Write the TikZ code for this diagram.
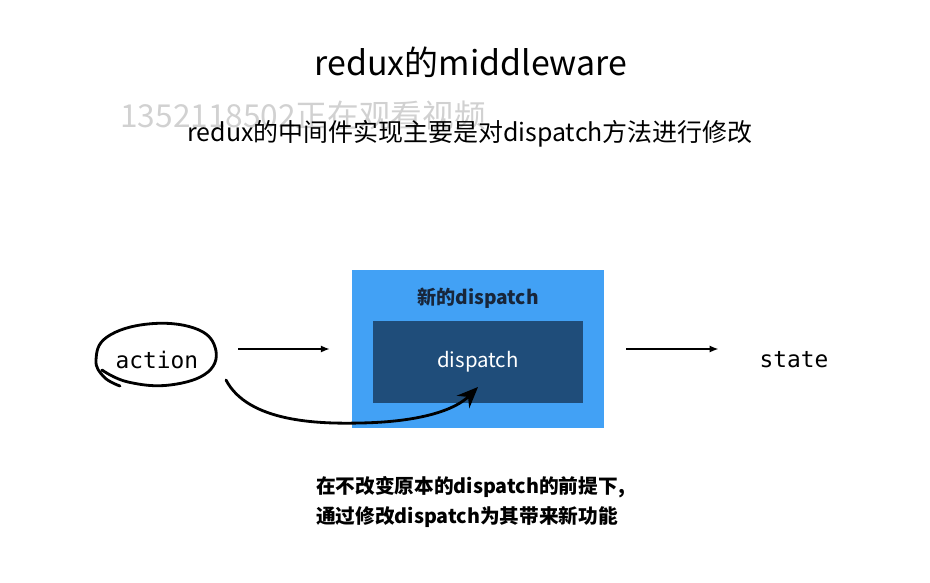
\documentclass[tikz,border=0pt]{standalone}
\usepackage{fontspec}
\setmainfont{Noto Sans CJK SC}
\setmonofont{DejaVu Sans Mono}
\usepackage{xcolor}
\usepackage{tikz}
\usetikzlibrary{calc}
\usetikzlibrary{arrows.meta}
\usetikzlibrary{positioning}
\tikzset{>=latex}
\definecolor{outerblue}{RGB}{66,161,245}
\definecolor{innerblue}{RGB}{31,77,122}
\definecolor{navytext}{RGB}{24,38,58}
\tikzstyle{box} = [rectangle, draw = none, inner sep = 0]
\tikzstyle{hand} = [line width = 1.6pt, line cap = round, line join = round]
\tikzstyle{flow} = [-{Latex[length=5pt, width=4pt]}, line width = 0.8pt]

\begin{document}
\begin{tikzpicture}[x=0.02cm, y=-0.02cm]
\useasboundingbox (0, 0) rectangle (930, 582);
%\node [draw=none, font=\small] at (465, 20) {};
\node [draw = none, font=\fontsize{19.3}{22}\selectfont] (title) at (471, 62) {redux的middleware};
\node [draw = none, font=\fontsize{18}{21}\selectfont, text=black!18] (mark) at (303, 116) {1352118502正在观看视频};
\node [draw = none, font=\fontsize{14.2}{17}\selectfont] (sub) at (470, 134) {redux的中间件实现主要是对dispatch方法进行修改};
\node [box, fill = outerblue, minimum width = 5.04cm, minimum height = 3.16cm] (newdisp) at (478, 349) {};
\node [box, fill = innerblue, minimum width = 4.2cm, minimum height = 1.64cm] (disp) at (478, 362) {};
\node [draw = none, font=\bfseries\fontsize{10.9}{13}\selectfont, text=navytext] (newlbl) at (478, 298) {新的dispatch};
\node [draw = none, font=\fontsize{11.6}{14}\selectfont, text=white] (displbl) at (478, 362) {dispatch};
\node [draw = none, font=\ttfamily\fontsize{13}{16}\selectfont] (action) at (157, 360) {action};
\node [draw = none, font=\ttfamily\fontsize{13}{16}\selectfont] (state) at (794, 360) {state};
\coordinate (tail) at (226, 380);
\coordinate (tip) at (478, 387);
\draw [flow, shorten <= 0.68cm, shorten >= 0.44cm] (action.east |- newdisp) to (newdisp.west);
\draw [flow, shorten <= 0.44cm, shorten >= 0.7cm] (newdisp.east) to (state.west |- newdisp);
% hand drawn loop round the action
\draw [hand] plot [smooth, tension = 0.7] coordinates {(120, 386) (104, 377) (96, 360) (107, 337) (148, 324) (194, 328) (215, 347) (208, 372) (170, 385) (128, 382) (102, 370)};
\draw [hand, -{Stealth[length=12pt, width=10pt, inset=4pt]}] (tail) .. controls (248, 422) and (318, 424) .. (360, 423) .. controls (420, 422) and (455, 410) .. (tip);
\node [draw = none, align=left, anchor=west, font=\bfseries\fontsize{11.2}{17}\selectfont] (note) at (310, 502) {在不改变原本的dispatch的前提下,\\通过修改dispatch为其带来新功能};
\end{tikzpicture}
\end{document}
